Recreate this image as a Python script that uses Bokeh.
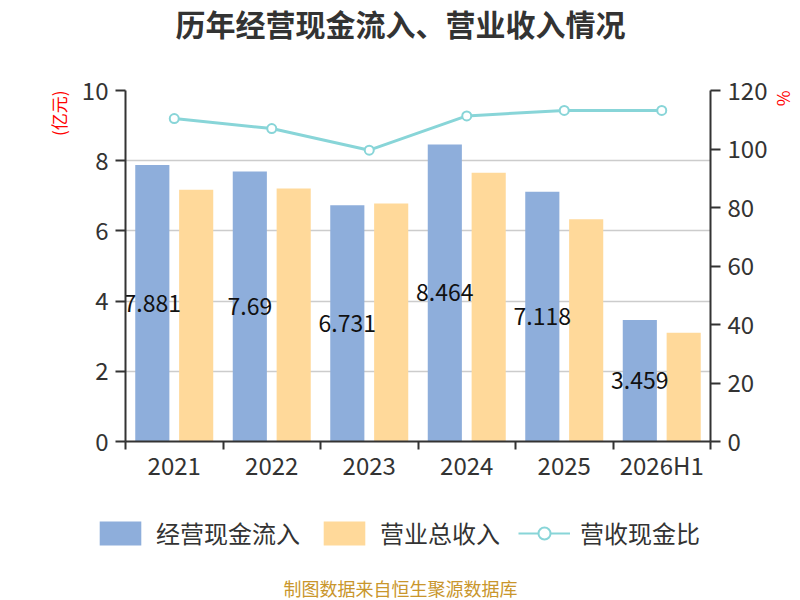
from bokeh.plotting import figure
from bokeh.layouts import column
from bokeh.models import (Range1d, LinearAxis, FixedTicker, Title, Legend, LegendItem, Label)
from bokeh.core.properties import value
from bokeh.embed import file_html
from bokeh.resources import INLINE

categories = ["2021", "2022", "2023", "2024", "2025", "2026H1"]
cash_inflow = [7.881, 7.69, 6.731, 8.464, 7.118, 3.459]
revenue = [7.17, 7.21, 6.78, 7.66, 6.33, 3.10]
ratio = [110.4, 107.0, 99.6, 111.3, 113.2, 113.2]
left_ticks = [0, 2, 4, 6, 8, 10]
right_ticks = [0, 20, 40, 60, 80, 100, 120]

FONT = "Noto Sans CJK SC"
BLUE = "#8eaedb"
YELLOW = "#ffd99a"
TEAL = "#88d5d8"
AX = "#333333"

n = len(categories)
centers = [i + 0.5 for i in range(n)]


def blank(h):
    f = figure(width=800, height=h, x_range=Range1d(0, 800), y_range=Range1d(0, h),
               output_backend="svg", toolbar_location=None, min_border=0,
               x_axis_location=None, y_axis_location=None)
    f.outline_line_color = None
    f.grid.visible = False
    try:
        f.frame_align = False
    except Exception:
        pass
    return f


# ---- title strip
top = blank(60)
top.add_layout(Label(x=400, y=38, text="历年经营现金流入、营业收入情况", text_font=FONT,
                     text_font_size="30px", text_font_style="bold", text_color=AX,
                     text_align="center", text_baseline="middle"))

# ---- main chart
p = figure(width=800, height=440, x_range=Range1d(0, n), y_range=Range1d(0, 10),
           output_backend="svg", toolbar_location=None, x_axis_location=None,
           min_border_left=125, min_border_right=90, min_border_top=30, min_border_bottom=59)
p.outline_line_color = None
p.extra_y_ranges = {"right": Range1d(0, 120)}
p.xgrid.visible = False


def style_axis(ax, standoff):
    ax.axis_line_color = AX
    ax.axis_line_width = 2
    ax.major_tick_line_color = AX
    ax.major_tick_line_width = 2
    ax.major_tick_out = 10
    ax.major_tick_in = 0
    ax.minor_tick_line_color = None
    ax.major_label_text_font = FONT
    ax.major_label_text_font_size = "24px"
    ax.major_label_text_color = AX
    ax.major_label_standoff = standoff


ya = p.yaxis[0]
ya.ticker = FixedTicker(ticks=left_ticks)
style_axis(ya, 7)

p.ygrid.ticker = FixedTicker(ticks=left_ticks)
p.ygrid.grid_line_color = "#cccccc"
p.ygrid.grid_line_width = 1.5

ra = LinearAxis(y_range_name="right", ticker=FixedTicker(ticks=right_ticks))
style_axis(ra, 7)
p.add_layout(ra, "right")

xa = LinearAxis(ticker=FixedTicker(ticks=centers, minor_ticks=list(range(n + 1))))
xa.major_label_overrides = {c: lab for c, lab in zip(centers, categories)}
style_axis(xa, -3)
xa.major_tick_line_color = None
xa.major_tick_out = 0
xa.minor_tick_line_color = AX
xa.minor_tick_line_width = 2
xa.minor_tick_out = 8
xa.minor_tick_in = 0
p.add_layout(xa, "below")

off = 0.225
src = dict(xc=centers, xb=[c - off for c in centers], xy=[c + off for c in centers],
           cash=cash_inflow, rev=revenue, ratio=ratio,
           lab=[str(v) for v in cash_inflow], laby=[v / 2 for v in cash_inflow])

p.vbar(x="xb", top="cash", width=0.35, source=src, fill_color=BLUE, line_color=None)
p.vbar(x="xy", top="rev", width=0.35, source=src, fill_color=YELLOW, line_color=None)
p.line(x="xc", y="ratio", source=src, y_range_name="right", line_color=TEAL, line_width=3)
p.scatter(x="xc", y="ratio", source=src, y_range_name="right", size=9,
          fill_color="white", line_color=TEAL, line_width=2)

p.text(x="xb", y="laby", text="lab", source=src,
       text_font=value(FONT), text_font_size="23px", text_color="#111111",
       text_align="center", text_baseline="middle")

p.add_layout(Title(text="(亿元)", align="right", standoff=15,
                   text_font=FONT, text_font_size="17px", text_font_style="normal",
                   text_color="red"), "left")
p.add_layout(Title(text="%", align="left", standoff=2,
                   text_font=FONT, text_font_size="17px", text_font_style="normal",
                   text_color="red"), "right")

# ---- legend + source strip
bot = blank(100)
nan = float("nan")
lb1 = bot.vbar(x=[nan], top=[nan], width=1, fill_color=BLUE, line_color=None)
lb2 = bot.vbar(x=[nan], top=[nan], width=1, fill_color=YELLOW, line_color=None)
ll = bot.line(x=[nan], y=[nan], line_color=TEAL, line_width=2)
ls = bot.scatter(x=[nan], y=[nan], size=20, fill_color="white", line_color=TEAL, line_width=2)
legend = Legend(items=[LegendItem(label="经营现金流入", renderers=[lb1]),
                       LegendItem(label="营业总收入", renderers=[lb2]),
                       LegendItem(label="营收现金比", renderers=[ll, ls])],
                location=(94, 50), orientation="horizontal",
                glyph_width=52, glyph_height=30, label_standoff=10, spacing=18,
                padding=0, margin=0, border_line_color=None, background_fill_alpha=0,
                label_text_font=FONT, label_text_font_size="24px", label_text_color=AX)
bot.add_layout(legend, "center")
bot.add_layout(Label(x=400, y=13, text="制图数据来自恒生聚源数据库", text_font=FONT,
                     text_font_size="18px", text_color="#c9962c",
                     text_align="center", text_baseline="middle"))

layout = column(top, p, bot, spacing=0)
open("out.html", "w").write(file_html(layout, INLINE))
